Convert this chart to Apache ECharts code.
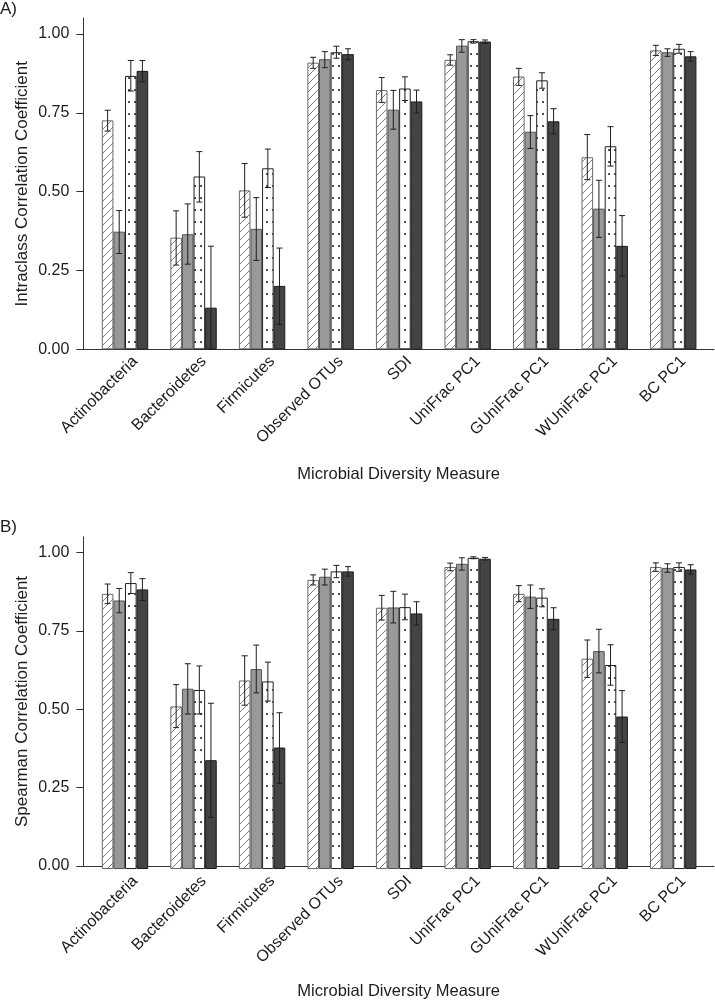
<!DOCTYPE html>
<html>
<head>
<meta charset="utf-8">
<script src="https://cdn.jsdelivr.net/npm/echarts@6/dist/echarts.min.js"></script>
<style>
  html, body { margin: 0; padding: 0; background: #fff; }
  #chart { width: 715px; height: 1001px; }
</style>
</head>
<body>
<div id="chart"></div>
<script>
var categories = ['Actinobacteria', 'Bacteroidetes', 'Firmicutes', 'Observed OTUs', 'SDI',
  'UniFrac PC1', 'GUniFrac PC1', 'WUniFrac PC1', 'BC PC1'];
var yTicks = [0, 0.25, 0.5, 0.75, 1];

// A) intraclass correlation coefficient (bar value, lower and upper error limit)
var iccHatch   = [0.726, 0.354, 0.504, 0.909, 0.822, 0.918, 0.865, 0.609, 0.948];
var iccHatchLo = [0.692, 0.267, 0.419, 0.891, 0.783, 0.901, 0.837, 0.538, 0.932];
var iccHatchHi = [0.758, 0.439, 0.589, 0.926, 0.862, 0.934, 0.891, 0.681, 0.964];
var iccGray    = [0.373, 0.365, 0.382, 0.920, 0.760, 0.963, 0.690, 0.446, 0.942];
var iccGrayLo  = [0.304, 0.270, 0.282, 0.893, 0.698, 0.942, 0.637, 0.355, 0.929];
var iccGrayHi  = [0.440, 0.461, 0.481, 0.944, 0.821, 0.982, 0.741, 0.536, 0.953];
var iccDot     = [0.867, 0.548, 0.574, 0.942, 0.827, 0.977, 0.853, 0.644, 0.953];
var iccDotLo   = [0.819, 0.467, 0.513, 0.923, 0.789, 0.971, 0.828, 0.581, 0.939];
var iccDotHi   = [0.916, 0.627, 0.635, 0.961, 0.864, 0.982, 0.877, 0.706, 0.967];
var iccDark    = [0.883, 0.132, 0.201, 0.936, 0.786, 0.976, 0.723, 0.328, 0.929];
var iccDarkLo  = [0.848, 0.000, 0.079, 0.918, 0.749, 0.970, 0.683, 0.232, 0.914];
var iccDarkHi  = [0.916, 0.327, 0.321, 0.953, 0.822, 0.981, 0.763, 0.424, 0.944];

// B) spearman correlation coefficient
var spHatch   = [0.870, 0.514, 0.596, 0.914, 0.826, 0.955, 0.870, 0.665, 0.955];
var spHatchLo = [0.839, 0.447, 0.518, 0.898, 0.787, 0.943, 0.845, 0.606, 0.941];
var spHatchHi = [0.901, 0.583, 0.674, 0.930, 0.865, 0.967, 0.896, 0.724, 0.968];
var spGray    = [0.849, 0.570, 0.632, 0.924, 0.827, 0.965, 0.861, 0.689, 0.952];
var spGrayLo  = [0.810, 0.490, 0.557, 0.898, 0.778, 0.945, 0.824, 0.620, 0.938];
var spGrayHi  = [0.887, 0.649, 0.708, 0.948, 0.878, 0.984, 0.898, 0.758, 0.965];
var spDot     = [0.904, 0.566, 0.593, 0.941, 0.828, 0.984, 0.858, 0.645, 0.955];
var spDotLo   = [0.871, 0.490, 0.531, 0.921, 0.788, 0.981, 0.829, 0.581, 0.941];
var spDotHi   = [0.937, 0.642, 0.654, 0.960, 0.869, 0.987, 0.886, 0.709, 0.968];
var spDark    = [0.884, 0.344, 0.384, 0.941, 0.808, 0.981, 0.791, 0.482, 0.947];
var spDarkLo  = [0.849, 0.163, 0.271, 0.926, 0.771, 0.977, 0.756, 0.400, 0.932];
var spDarkHi  = [0.918, 0.524, 0.494, 0.956, 0.845, 0.985, 0.826, 0.564, 0.962];

var FONT = '"Liberation Sans", Arial, Helvetica, sans-serif';
var TXT = '#1c1c1c';
var BAR_W = 11.6;
var CAP = 3;
var Y_MAX = 1.05;

function hatchPattern() {
  var c = document.createElement('canvas');
  c.width = 8; c.height = 8;
  var g = c.getContext('2d');
  g.fillStyle = '#fff';
  g.fillRect(0, 0, 8, 8);
  g.strokeStyle = '#6e6e6e';
  g.lineWidth = 0.9;
  g.beginPath();
  g.moveTo(-1, 9); g.lineTo(9, -1);
  g.moveTo(-1, 1); g.lineTo(1, -1);
  g.moveTo(7, 9); g.lineTo(9, 7);
  g.stroke();
  return c;
}

function dotPattern() {
  var c = document.createElement('canvas');
  c.width = 6; c.height = 12;
  var g = c.getContext('2d');
  g.fillStyle = '#fff';
  g.fillRect(0, 0, 6, 12);
  g.fillStyle = '#111';
  g.fillRect(2.2, 5.2, 1.7, 1.7);
  return c;
}

var barStyles = [
  { color: { image: hatchPattern(), repeat: 'repeat' }, borderColor: '#6a6a6a', borderWidth: 1 },
  { color: '#999999', borderColor: '#555555', borderWidth: 1 },
  { color: { image: dotPattern(), repeat: 'repeat' }, borderColor: '#222222', borderWidth: 1 },
  { color: '#444444', borderColor: '#1a1a1a', borderWidth: 1 }
];

function renderErr(params, api) {
  var i = api.value(0), s = api.value(3);
  var cx = api.coord([i, 0])[0] + (s - 1.5) * BAR_W;
  var yl = api.coord([i, api.value(1)])[1];
  var yh = api.coord([i, api.value(2)])[1];
  var st = { stroke: '#1e1e1e', lineWidth: 1 };
  return {
    type: 'group',
    children: [
      { type: 'line', shape: { x1: cx, y1: yl, x2: cx, y2: yh }, style: st },
      { type: 'line', shape: { x1: cx - CAP, y1: yh, x2: cx + CAP, y2: yh }, style: st },
      { type: 'line', shape: { x1: cx - CAP, y1: yl, x2: cx + CAP, y2: yl }, style: st }
    ]
  };
}

var panels = [
  { top: 18.2, height: 331.1, name: 'Intraclass Correlation Coefficient',
    vals: [iccHatch, iccGray, iccDot, iccDark],
    los: [iccHatchLo, iccGrayLo, iccDotLo, iccDarkLo],
    his: [iccHatchHi, iccGrayHi, iccDotHi, iccDarkHi] },
  { top: 536.9, height: 332.1, name: 'Spearman Correlation Coefficient',
    vals: [spHatch, spGray, spDot, spDark],
    los: [spHatchLo, spGrayLo, spDotLo, spDarkLo],
    his: [spHatchHi, spGrayHi, spDotHi, spDarkHi] }
];

// per panel: bars grid, frame grid (axis lines), label grid (slanted labels nudged right)
var grid = [], xAxis = [], yAxis = [], series = [];
panels.forEach(function (p, k) {
  var gBar = k * 3, gFrame = k * 3 + 1, gLab = k * 3 + 2;
  grid.push({ left: 90.75, width: 616.75, top: p.top, height: p.height });
  grid.push({ left: 83.3, width: 630.7, top: p.top, height: p.height });
  grid.push({ left: 95.25, width: 616.75, top: p.top, height: p.height });

  xAxis.push({
    type: 'category', gridIndex: gBar, data: categories,
    axisLine: { show: false }, axisTick: { show: false }, axisLabel: { show: false }
  });
  xAxis.push({
    type: 'value', gridIndex: gFrame, min: 0, max: 1,
    name: 'Microbial Diversity Measure', nameLocation: 'middle', nameGap: 117, nameMoveOverlap: false,
    nameTextStyle: { fontSize: 16.5, color: TXT, fontFamily: FONT },
    axisLine: { show: true, lineStyle: { color: '#333', width: 1 } },
    axisTick: { show: false }, axisLabel: { show: false }, splitLine: { show: false }
  });
  xAxis.push({
    type: 'category', gridIndex: gLab, data: categories,
    axisLine: { show: false }, axisTick: { show: false },
    axisLabel: { rotate: 45, margin: 4, verticalAlign: 'top', fontSize: 16, color: TXT, fontFamily: FONT, interval: 0 }
  });

  yAxis.push({ type: 'value', gridIndex: gBar, min: 0, max: Y_MAX, show: false, splitLine: { show: false } });
  yAxis.push({
    type: 'value', gridIndex: gFrame, min: 0, max: Y_MAX, interval: 0.25,
    name: p.name, nameLocation: 'middle', nameGap: 52, nameMoveOverlap: false,
    nameTextStyle: { fontSize: 17, color: TXT, fontFamily: FONT },
    axisLine: { show: true, lineStyle: { color: '#333', width: 1 } },
    axisTick: { show: true, length: 7, customValues: yTicks, lineStyle: { color: '#333' } },
    axisLabel: { customValues: yTicks, margin: 14, fontSize: 16, color: TXT, fontFamily: FONT,
      formatter: function (v) { return v.toFixed(2); } },
    splitLine: { show: false }
  });
  yAxis.push({ type: 'value', gridIndex: gLab, min: 0, max: Y_MAX, show: false, splitLine: { show: false } });

  var errData = [];
  for (var s = 0; s < 4; s++) {
    series.push({
      type: 'bar', xAxisIndex: gBar, yAxisIndex: gBar,
      data: p.vals[s], barWidth: BAR_W, barGap: '0%',
      itemStyle: barStyles[s], silent: true, animation: false
    });
    for (var i = 0; i < categories.length; i++) {
      errData.push([i, p.los[s][i], p.his[s][i], s]);
    }
  }
  series.push({
    type: 'custom', xAxisIndex: gBar, yAxisIndex: gBar, data: errData,
    encode: { x: 0, y: [1, 2] }, renderItem: renderErr, z: 5, silent: true, animation: false
  });
});

var myChart = echarts.init(document.getElementById('chart'));
myChart.setOption({
  backgroundColor: '#fff',
  animation: false,
  title: [
    { text: 'A)', left: 0, top: 1, padding: 0, textStyle: { fontSize: 17, fontWeight: 'normal', color: TXT, fontFamily: FONT } },
    { text: 'B)', left: 0, top: 519, padding: 0, textStyle: { fontSize: 17, fontWeight: 'normal', color: TXT, fontFamily: FONT } }
  ],
  grid: grid,
  xAxis: xAxis,
  yAxis: yAxis,
  series: series
});
</script>
</body>
</html>
